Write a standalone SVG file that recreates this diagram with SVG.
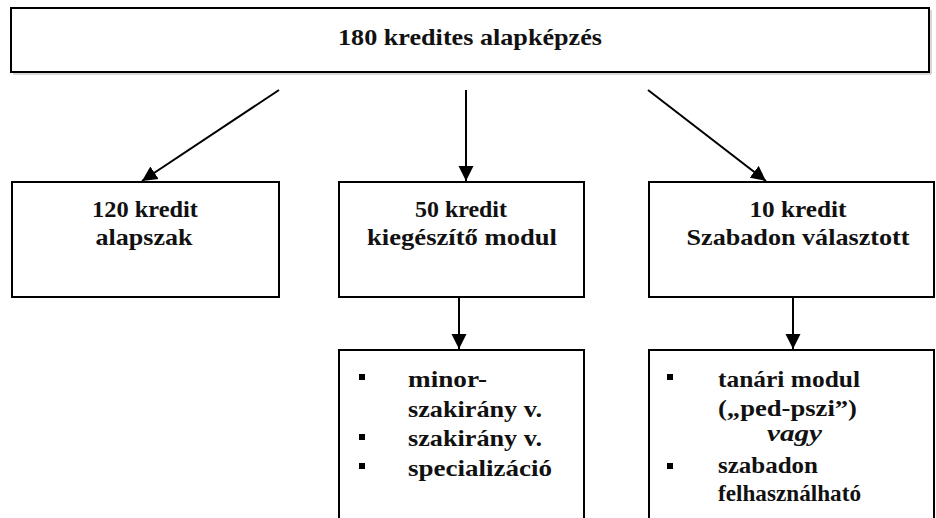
<svg xmlns="http://www.w3.org/2000/svg" width="936" height="518" viewBox="0 0 936 518">
<style>
  .box { fill: #ffffff; stroke: #000000; stroke-width: 2; }
  .t { font-family: "Liberation Serif", "DejaVu Serif", serif; font-weight: bold; font-size: 24px; fill: #111111; }
  .c { text-anchor: middle; }
  .it { font-style: italic; }
  .conn { stroke: #000000; stroke-width: 2; fill: none; }
  .bul { fill: #000000; }
  .sh { fill: none; stroke: #b0b0b0; stroke-width: 1; }
</style>
<defs>
  <marker id="arr" markerUnits="userSpaceOnUse" markerWidth="16" markerHeight="16" refX="15" refY="8" orient="auto">
    <path d="M0,0.5 L15,8 L0,15.5 z" fill="#000000"/>
  </marker>
</defs>
<rect width="936" height="518" fill="#ffffff"/>

<g id="n-top">
  <polyline class="sh" points="931,10 931,74 13,74"/>
  <rect class="box" x="11" y="8" width="918" height="64" stroke-width="2.5"/>
  <text class="t c" x="470" y="45" textLength="264" lengthAdjust="spacingAndGlyphs">180 kredites alapképzés</text>
</g>

<g id="n-120">
  <rect class="box" x="12" y="182" width="267" height="115"/>
  <text class="t c" x="145" y="217" textLength="106" lengthAdjust="spacingAndGlyphs">120 kredit</text>
  <text class="t c" x="144" y="245" textLength="97" lengthAdjust="spacingAndGlyphs">alapszak</text>
</g>

<g id="n-50">
  <rect class="box" x="339" y="182" width="245" height="115"/>
  <text class="t c" x="461" y="217" textLength="92" lengthAdjust="spacingAndGlyphs">50 kredit</text>
  <text class="t c" x="462" y="245" textLength="190" lengthAdjust="spacingAndGlyphs">kiegészítő modul</text>
</g>

<g id="n-10">
  <rect class="box" x="649" y="182" width="285" height="115"/>
  <text class="t c" x="798" y="217" textLength="97" lengthAdjust="spacingAndGlyphs">10 kredit</text>
  <text class="t c" x="798" y="245" textLength="223" lengthAdjust="spacingAndGlyphs">Szabadon választott</text>
</g>

<g id="n-minor">
  <rect class="box" x="339" y="350" width="245" height="190"/>
  <rect class="bul" x="359" y="374" width="6" height="6"/>
  <rect class="bul" x="359" y="434" width="6" height="6"/>
  <rect class="bul" x="359" y="463" width="6" height="6"/>
  <text class="t" x="408" y="387" textLength="79" lengthAdjust="spacingAndGlyphs">minor-</text>
  <text class="t" x="408" y="417" textLength="134" lengthAdjust="spacingAndGlyphs">szakirány v.</text>
  <text class="t" x="408" y="446" textLength="134" lengthAdjust="spacingAndGlyphs">szakirány v.</text>
  <text class="t" x="408" y="476" textLength="144" lengthAdjust="spacingAndGlyphs">specializáció</text>
</g>

<g id="n-tanari">
  <rect class="box" x="649" y="350" width="285" height="190"/>
  <rect class="bul" x="667" y="374" width="6" height="6"/>
  <rect class="bul" x="667" y="463" width="6" height="6"/>
  <text class="t" x="718" y="387" textLength="142" lengthAdjust="spacingAndGlyphs">tanári modul</text>
  <text class="t" x="718" y="416" textLength="139" lengthAdjust="spacingAndGlyphs">(„ped-pszi”)</text>
  <text class="t it" x="767" y="441" textLength="55" lengthAdjust="spacingAndGlyphs">vagy</text>
  <text class="t" x="718" y="473" textLength="100" lengthAdjust="spacingAndGlyphs">szabadon</text>
  <text class="t" x="718" y="501" textLength="143" lengthAdjust="spacingAndGlyphs">felhasználható</text>
</g>

<g id="connectors">
  <line class="conn" x1="279" y1="90" x2="142" y2="181" marker-end="url(#arr)"/>
  <line class="conn" x1="466" y1="90" x2="466" y2="181" marker-end="url(#arr)"/>
  <line class="conn" x1="648" y1="90" x2="766" y2="181" marker-end="url(#arr)"/>
  <line class="conn" x1="459" y1="297" x2="459" y2="349" marker-end="url(#arr)"/>
  <line class="conn" x1="793" y1="297" x2="793" y2="349" marker-end="url(#arr)"/>
</g>
</svg>
